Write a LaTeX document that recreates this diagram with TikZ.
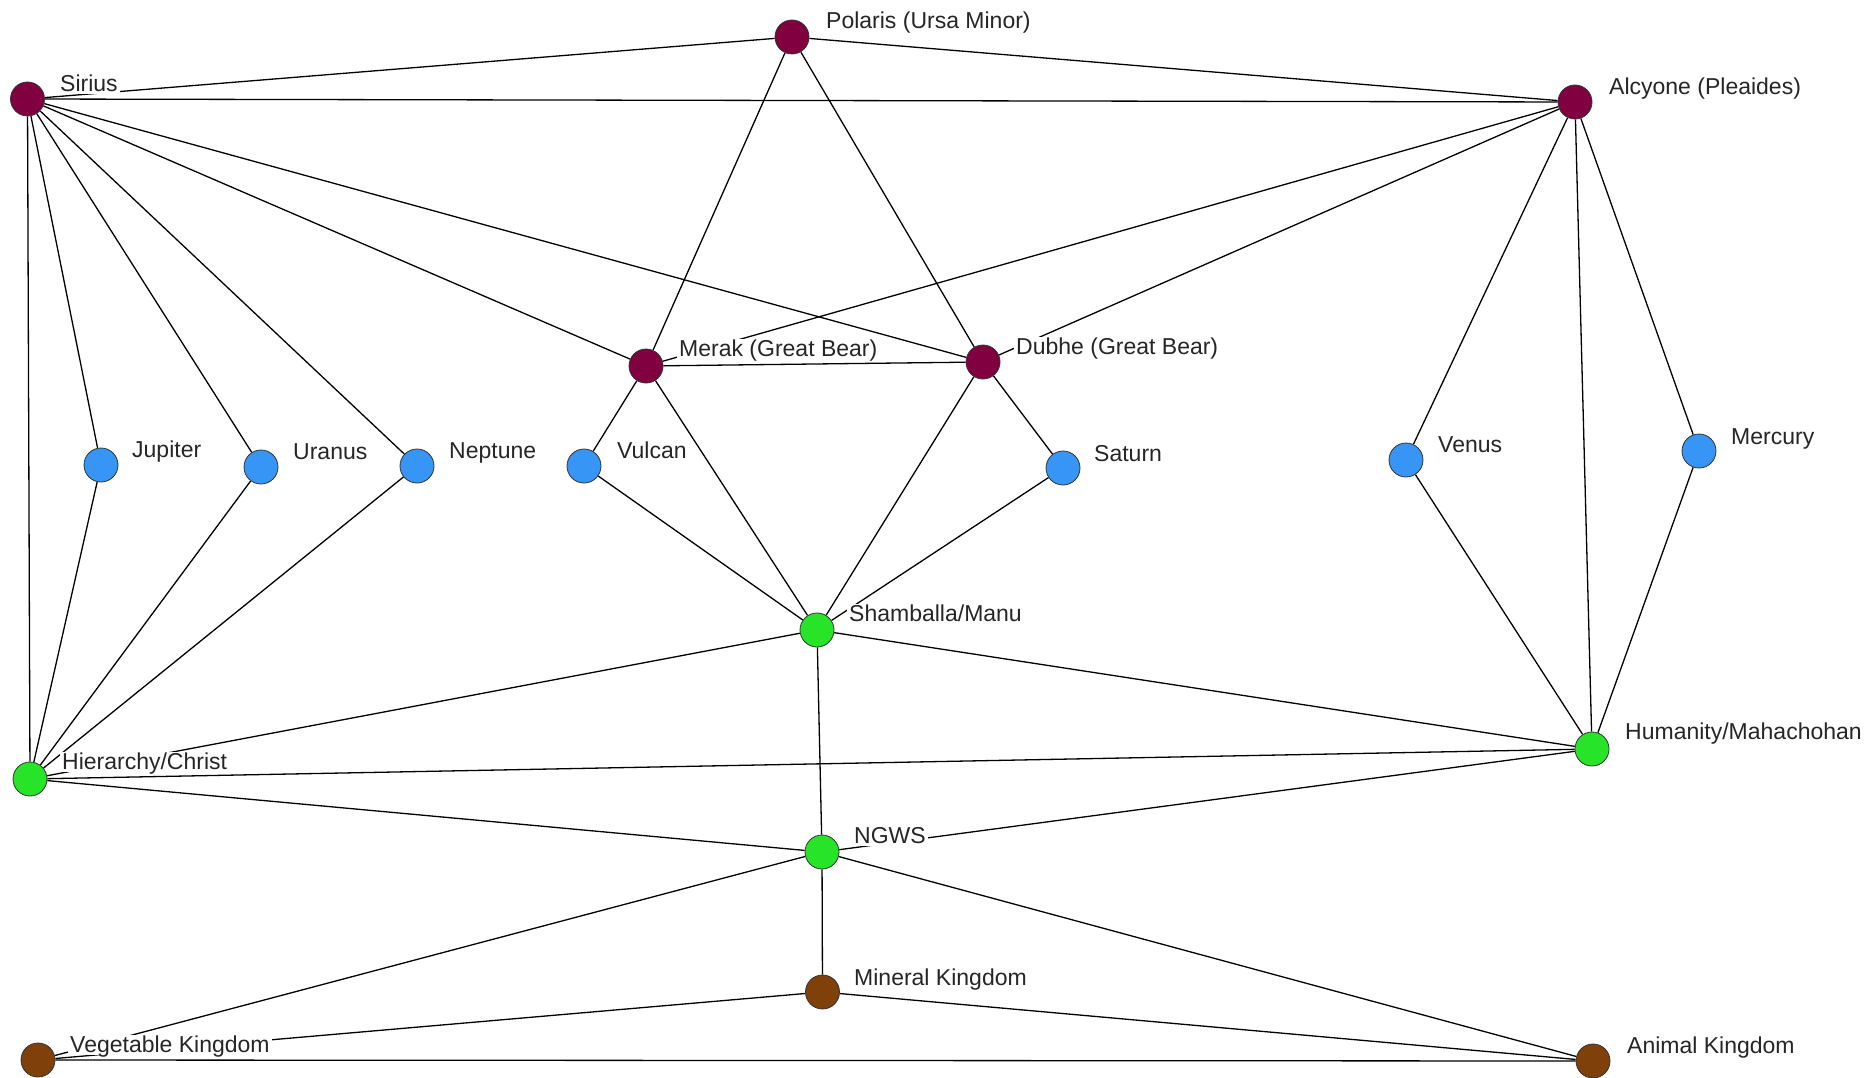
\documentclass[tikz,border=0pt]{standalone}
\usepackage{fontspec}
\setmainfont{Liberation Sans}
\usetikzlibrary{backgrounds}
\definecolor{starc}{RGB}{128,0,64}
\definecolor{planetc}{RGB}{55,150,245}
\definecolor{centrec}{RGB}{40,228,40}
\definecolor{kingc}{RGB}{128,64,10}
\tikzset{
  dot/.style={circle, draw=black!80, line width=0.8pt, minimum size=34pt, inner sep=0pt},
  star/.style={dot, fill=starc},
  planet/.style={dot, fill=planetc},
  centre/.style={dot, fill=centrec},
  kingdom/.style={dot, fill=kingc},
  lbl/.style={anchor=west, fill=white, inner xsep=2pt, inner ysep=1pt, text depth=1pt, text=black!85, font=\fontsize{23}{26}\selectfont},
  link/.style={draw=black, line width=1.3pt}
}
\begin{document}
\begin{tikzpicture}[x=1pt,y=-1pt]
\useasboundingbox (0,0) rectangle (1868,1078);
% nodes
\node[star] (polaris) at (792,37) {};
\node[star] (sirius) at (27.5,99) {};
\node[star] (alcyone) at (1575,102) {};
\node[star] (merak) at (646,366) {};
\node[star] (dubhe) at (983,362) {};
\node[planet] (jupiter) at (101,465) {};
\node[planet] (uranus) at (261,467) {};
\node[planet] (neptune) at (417,466) {};
\node[planet] (vulcan) at (584,466) {};
\node[planet] (saturn) at (1063,468) {};
\node[planet] (venus) at (1406,460) {};
\node[planet] (mercury) at (1699,451) {};
\node[centre] (shamballa) at (817,630) {};
\node[centre] (hierarchy) at (30,779) {};
\node[centre] (humanity) at (1592,749) {};
\node[centre] (ngws) at (822,852) {};
\node[kingdom] (mineral) at (822.5,992) {};
\node[kingdom] (vegetable) at (38,1060) {};
\node[kingdom] (animal) at (1593,1061) {};
% edges
\begin{pgfonlayer}{background}
\fill[white] (0,0) rectangle (1868,1078);
\draw[link] (sirius) -- (polaris);
\draw[link] (polaris) -- (alcyone);
\draw[link] (sirius) -- (alcyone);
\draw[link] (polaris) -- (merak);
\draw[link] (polaris) -- (dubhe);
\draw[link] (sirius) -- (merak);
\draw[link] (sirius) -- (dubhe);
\draw[link] (alcyone) -- (merak);
\draw[link] (alcyone) -- (dubhe);
\draw[link] (merak) -- (dubhe);
\draw[link] (sirius) -- (jupiter);
\draw[link] (sirius) -- (uranus);
\draw[link] (sirius) -- (neptune);
\draw[link] (sirius) -- (hierarchy);
\draw[link] (jupiter) -- (hierarchy);
\draw[link] (uranus) -- (hierarchy);
\draw[link] (neptune) -- (hierarchy);
\draw[link] (merak) -- (vulcan);
\draw[link] (merak) -- (shamballa);
\draw[link] (dubhe) -- (shamballa);
\draw[link] (dubhe) -- (saturn);
\draw[link] (vulcan) -- (shamballa);
\draw[link] (saturn) -- (shamballa);
\draw[link] (alcyone) -- (venus);
\draw[link] (alcyone) -- (humanity);
\draw[link] (alcyone) -- (mercury);
\draw[link] (venus) -- (humanity);
\draw[link] (mercury) -- (humanity);
\draw[link] (shamballa) -- (hierarchy);
\draw[link] (shamballa) -- (humanity);
\draw[link] (shamballa) -- (ngws);
\draw[link] (hierarchy) -- (humanity);
\draw[link] (hierarchy) -- (ngws);
\draw[link] (humanity) -- (ngws);
\draw[link] (ngws) -- (mineral);
\draw[link] (ngws) -- (vegetable);
\draw[link] (ngws) -- (animal);
\draw[link] (mineral) -- (vegetable);
\draw[link] (mineral) -- (animal);
\draw[link] (vegetable) -- (animal);
\end{pgfonlayer}
% labels
\node[lbl] (lpolaris) at (824,21) {Polaris (Ursa Minor)};
\node[lbl] (lsirius) at (58,84) {Sirius};
\node[lbl] (lalcyone) at (1607,87) {Alcyone (Pleaides)};
\node[lbl] (lmerak) at (677,349) {Merak (Great Bear)};
\node[lbl] (ldubhe) at (1014,347) {Dubhe (Great Bear)};
\node[lbl] (ljupiter) at (130,450) {Jupiter};
\node[lbl] (luranus) at (291,452) {Uranus};
\node[lbl] (lneptune) at (447,451) {Neptune};
\node[lbl] (lvulcan) at (615,451) {Vulcan};
\node[lbl] (lsaturn) at (1092,454) {Saturn};
\node[lbl] (lvenus) at (1436,445) {Venus};
\node[lbl] (lmercury) at (1729,437) {Mercury};
\node[lbl] (lshamballa) at (847,614) {Shamballa/Manu};
\node[lbl] (lhierarchy) at (60,762) {Hierarchy/Christ};
\node[lbl] (lhumanity) at (1623,732) {Humanity/Mahachohan};
\node[lbl] (lngws) at (852,836) {NGWS};
\node[lbl] (lmineral) at (852,978) {Mineral Kingdom};
\node[lbl] (lvegetable) at (68,1045) {Vegetable Kingdom};
\node[lbl] (lanimal) at (1625,1046) {Animal Kingdom};
\end{tikzpicture}
\end{document}
